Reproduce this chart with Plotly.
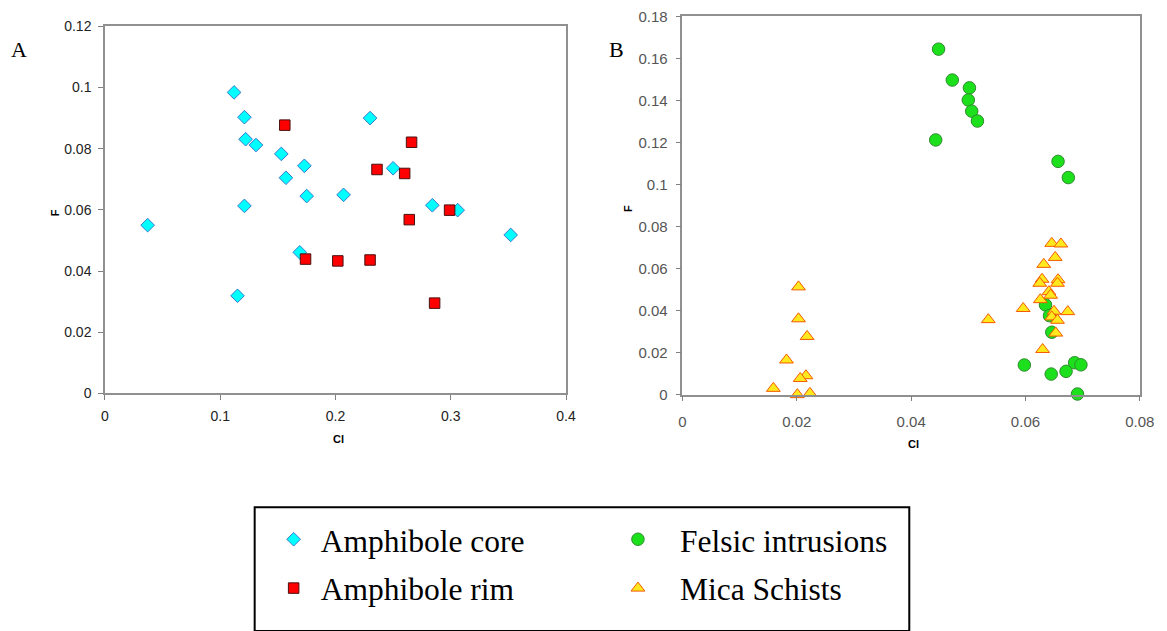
import plotly.graph_objects as go

W, H = 1167, 631
# placement calibration (page pixel -> figure pixel)
SX, BX = 0.9858, 2.8
SY, BY = 0.9757, 7.3

# ---- Panel A: amphibole compositions (Cl vs F) ----
core_cl = [0.037, 0.112, 0.115, 0.121, 0.121, 0.122, 0.131, 0.153, 0.157,
           0.173, 0.175, 0.169, 0.207, 0.230, 0.250, 0.284, 0.306, 0.352]
core_f = [0.055, 0.0984, 0.0319, 0.0903, 0.0613, 0.0831, 0.0812, 0.0783, 0.0705,
          0.0744, 0.0645, 0.0461, 0.0649, 0.0900, 0.0736, 0.0615, 0.0599, 0.0518]

rim_cl = [0.156, 0.266, 0.236, 0.260, 0.299, 0.264, 0.174, 0.202, 0.230, 0.286]
rim_f = [0.0877, 0.0821, 0.0732, 0.0719, 0.0599, 0.0568, 0.0439, 0.0433, 0.0436, 0.0295]

# ---- Panel B: felsic intrusions and mica schists ----
felsic_cl = [0.0448, 0.0472, 0.0502, 0.0500, 0.0506, 0.0516, 0.0443, 0.0657, 0.0675,
             0.0598, 0.0645, 0.0671, 0.0686, 0.0697, 0.0691, 0.0635, 0.0642, 0.0646]
felsic_f = [0.1644, 0.1497, 0.1460, 0.1402, 0.1349, 0.1302, 0.1212, 0.1110, 0.1033,
            0.0141, 0.0098, 0.0111, 0.0152, 0.0142, 0.0003, 0.0427, 0.0376, 0.0297]

mica_cl = [0.0203, 0.0203, 0.0218, 0.0182, 0.0216, 0.0206, 0.0159, 0.0201, 0.0223,
           0.0646, 0.0662, 0.0652, 0.0632, 0.0629, 0.0657, 0.0625, 0.0656, 0.0641,
           0.0644, 0.0626, 0.0596, 0.0674, 0.0650, 0.0646, 0.0656, 0.0535, 0.0653, 0.0630]
mica_f = [0.0513, 0.0361, 0.0277, 0.0165, 0.0090, 0.0077, 0.0030, 0.0000, 0.0006,
          0.0720, 0.0717, 0.0653, 0.0620, 0.0549, 0.0547, 0.0530, 0.0530, 0.0490,
          0.0473, 0.0452, 0.0410, 0.0395, 0.0397, 0.0370, 0.0354, 0.0357, 0.0293, 0.0215]

# tick values / labels
a_xticks = [0, 0.1, 0.2, 0.3, 0.4]
a_xlabels = ["0", "0.1", "0.2", "0.3", "0.4"]
a_yticks = [0, 0.02, 0.04, 0.06, 0.08, 0.1, 0.12]
a_ylabels = ["0", "0.02", "0.04", "0.06", "0.08", "0.1", "0.12"]
b_xticks = [0, 0.02, 0.04, 0.06, 0.08]
b_xlabels = ["0", "0.02", "0.04", "0.06", "0.08"]
b_yticks = [0, 0.02, 0.04, 0.06, 0.08, 0.1, 0.12, 0.14, 0.16, 0.18]
b_ylabels = ["0", "0.02", "0.04", "0.06", "0.08", "0.1", "0.12", "0.14", "0.16", "0.18"]


def px_x(p):
    """page pixel column -> paper x"""
    return ((p - BX) / SX) / W


def px_y(p):
    """page pixel row -> paper y"""
    return (H - (p - BY) / SY) / H


fig = go.Figure()

fig.add_trace(go.Scatter(
    x=core_cl, y=core_f, mode="markers", name="Amphibole core",
    xaxis="x", yaxis="y", legend="legend", cliponaxis=False,
    marker=dict(symbol="diamond", size=10.5, color="#00FFFF",
                line=dict(color="#3A78D0", width=1))))
fig.add_trace(go.Scatter(
    x=rim_cl, y=rim_f, mode="markers", name="Amphibole rim",
    xaxis="x", yaxis="y", legend="legend2", cliponaxis=False,
    marker=dict(symbol="square", size=10.5, color="#FF0000",
                line=dict(color="#4A1010", width=1))))
fig.add_trace(go.Scatter(
    x=felsic_cl, y=felsic_f, mode="markers", name="Felsic intrusions",
    xaxis="x2", yaxis="y2", legend="legend3", cliponaxis=False,
    marker=dict(symbol="circle", size=12.5, color="#1CE01C",
                line=dict(color="#2E8B2E", width=1))))
fig.add_trace(go.Scatter(
    x=mica_cl, y=mica_f, mode="markers", name="Mica Schists",
    xaxis="x2", yaxis="y2", legend="legend4", cliponaxis=False,
    marker=dict(symbol="triangle-up", size=12, color="#FFE81E",
                line=dict(color="#F55A00", width=1))))

axis_common = dict(showgrid=False, zeroline=False, showline=True, mirror=True,
                   linecolor="#909090", linewidth=1.5, ticks="outside",
                   ticklen=5, tickcolor="#808080", tickwidth=1)

fig.update_layout(
    width=W, height=H,
    margin=dict(l=0, r=0, t=0, b=0),
    paper_bgcolor="white", plot_bgcolor="white",
    showlegend=True,
    xaxis=dict(domain=[px_x(104), px_x(566)], range=[0, 0.4], anchor="y",
               tickvals=a_xticks, ticktext=a_xlabels, ticklabelstandoff=4,
               tickfont=dict(family="Liberation Sans", size=14, color="#222"),
               **axis_common),
    yaxis=dict(domain=[px_y(392.7), px_y(24.7)], range=[0, 0.12], anchor="x",
               tickvals=a_yticks, ticktext=a_ylabels, ticklabelstandoff=4,
               tickfont=dict(family="Liberation Sans", size=14, color="#222"),
               **axis_common),
    xaxis2=dict(domain=[px_x(682.7), px_x(1141)], range=[0, 0.08], anchor="y2",
                tickvals=b_xticks, ticktext=b_xlabels, ticklabelstandoff=8,
                tickfont=dict(family="Liberation Sans", size=15, color="#555"),
                **axis_common),
    yaxis2=dict(domain=[px_y(394), px_y(14.7)], range=[0, 0.18], anchor="x2",
                tickvals=b_yticks, ticktext=b_ylabels, ticklabelstandoff=5,
                tickfont=dict(family="Liberation Sans", size=15, color="#555"),
                **axis_common),
)

# one legend per entry, laid out as a 2x2 block
leg_font = dict(family="Liberation Serif", size=31.5, color="black")
leg_pos = {"legend": (266, 539, 44), "legend2": (266, 588, 44),
           "legend3": (596, 539, 74), "legend4": (596, 588, 74)}
for key, (lx, ly, iw) in leg_pos.items():
    fig.update_layout({key: dict(x=px_x(lx), y=px_y(ly), xanchor="left",
                                 yanchor="middle", font=leg_font, itemwidth=iw,
                                 bgcolor="rgba(0,0,0,0)", borderwidth=0)})

# legend frame
fig.add_shape(type="rect", xref="paper", yref="paper",
              x0=px_x(254), x1=px_x(910), y0=px_y(631), y1=px_y(507),
              line=dict(color="black", width=2), fillcolor="rgba(0,0,0,0)")

ann_sans = dict(family="Liberation Sans", size=11, color="black")
annotations = [
    dict(text="A", x=px_x(18), y=px_y(48),
         font=dict(family="Liberation Serif", size=22, color="black")),
    dict(text="B", x=px_x(617), y=px_y(48),
         font=dict(family="Liberation Serif", size=22, color="black")),
    dict(text="<b>F</b>", x=px_x(54), y=px_y(212), textangle=-90, font=ann_sans),
    dict(text="<b>Cl</b>", x=px_x(338), y=px_y(438), font=ann_sans),
    dict(text="<b>F</b>", x=px_x(628), y=px_y(207), textangle=-90, font=ann_sans),
    dict(text="<b>Cl</b>", x=px_x(914), y=px_y(443), font=ann_sans),
]
for a in annotations:
    a.update(xref="paper", yref="paper", showarrow=False,
             xanchor="center", yanchor="middle")
fig.update_layout(annotations=annotations)

fig.write_html("out.html")
